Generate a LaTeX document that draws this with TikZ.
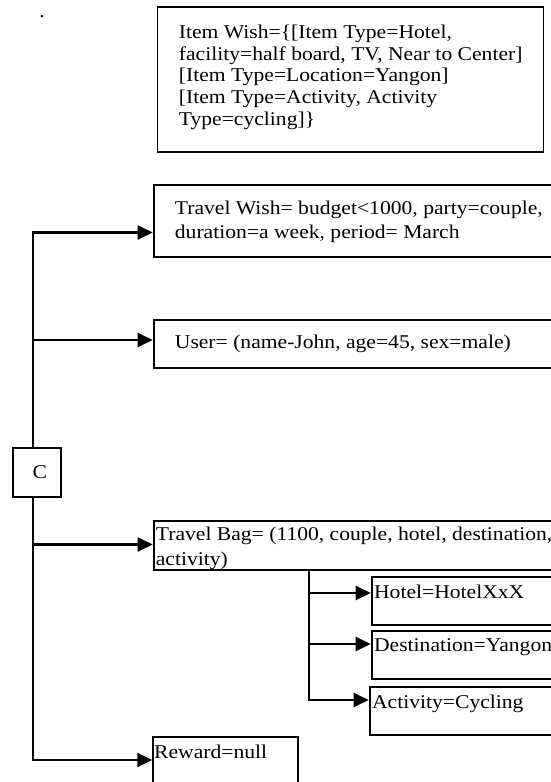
\documentclass[tikz,border=0pt]{standalone}
\usepackage{fontspec}
\setmainfont{Liberation Serif}[FakeStretch=1.108]
\usetikzlibrary{arrows.meta}
% #1 width, #2 height, #3 left pad, #4 baselineskip, #5 first-line height, #6 text
\newcommand{\bxt}[6]{\parbox[c][#2][t]{#1}{\fontsize{19.5}{#4}\selectfont\raggedright\leftskip=#3\relax\rule{0pt}{#5}#6}}
\begin{document}
\begin{tikzpicture}[x=1pt,y=-1pt,
  bx/.style={draw, line width=1.8pt, inner sep=0pt, anchor=north west},
  arr/.style={line width=2.2pt, -{Triangle[length=15pt,width=14pt]}}]
\useasboundingbox (0,0) rectangle (551,782);
\fill[white] (0,0) rectangle (551,782);

\node[anchor=base, inner sep=0pt] (dot) at (42,17) {\fontsize{19.5}{24}\selectfont .};

\node[bx] (iw) at (156.5,6) {\bxt{386pt}{145pt}{21.5pt}{21.7pt}{31.5pt}{Item Wish=\{[Item Type=Hotel,\\{}facility=half board, TV, Near to Center]\\{}[Item Type=Location=Yangon]\\{}[Item Type=Activity, Activity\\{}Type=cycling]\}}};

\node[bx] (tw) at (152.7,184) {\bxt{450pt}{72pt}{21.3pt}{24pt}{30pt}{Travel Wish= budget<1000, party=couple,\\{}duration=a week, period= March}};

\node[bx] (us) at (152.7,319) {\bxt{450pt}{48pt}{21.3pt}{24pt}{29pt}{User= (name-John, age=45, sex=male)}};

\node[draw, line width=1.8pt, minimum width=48.3pt, minimum height=49pt, inner sep=0pt] (c) at (36.85,472.5) {\fontsize{19.5}{24}\selectfont\hspace*{6pt}C};

\node[bx] (tb) at (152.7,520) {\bxt{450pt}{49pt}{2.3pt}{25pt}{20pt}{Travel Bag= (1100, couple, hotel, destination,\\{}activity)}};

\node[bx] (ho) at (370.7,576) {\bxt{250pt}{48pt}{2.5pt}{24pt}{21.7pt}{Hotel=HotelXxX}};
\node[bx] (de) at (370.7,630) {\bxt{250pt}{48pt}{2.5pt}{24pt}{20.7pt}{Destination=Yangon}};
\node[bx] (ac) at (368.7,686) {\bxt{250pt}{48pt}{2.5pt}{24pt}{22pt}{Activity=Cycling}};

\node[bx] (rw) at (152.3,736) {\bxt{144.4pt}{60pt}{1pt}{24pt}{22pt}{Reward=null}};

\coordinate (j1) at (33,232.5);
\coordinate (j2) at (33,340);
\coordinate (j3) at (33,544.5);
\coordinate (j4) at (33,760);
\coordinate (s1) at (309,593);
\coordinate (s2) at (309,644);
\coordinate (s3) at (309,700);

\draw[arr] (c.north -| j1) -- (j1) -- (j1 -| tw.west);
\draw[arr] (j2) -- (j2 -| us.west);
\draw[arr] (j3) -- (j3 -| tb.west);
\draw[arr] (c.south -| j4) -- (j4) -- (j4 -| rw.west);

\draw[arr] (tb.south -| s3) -- (s3) -- (s3 -| ac.west);
\draw[arr] (s1) -- (s1 -| ho.west);
\draw[arr] (s2) -- (s2 -| de.west);
\end{tikzpicture}
\end{document}
